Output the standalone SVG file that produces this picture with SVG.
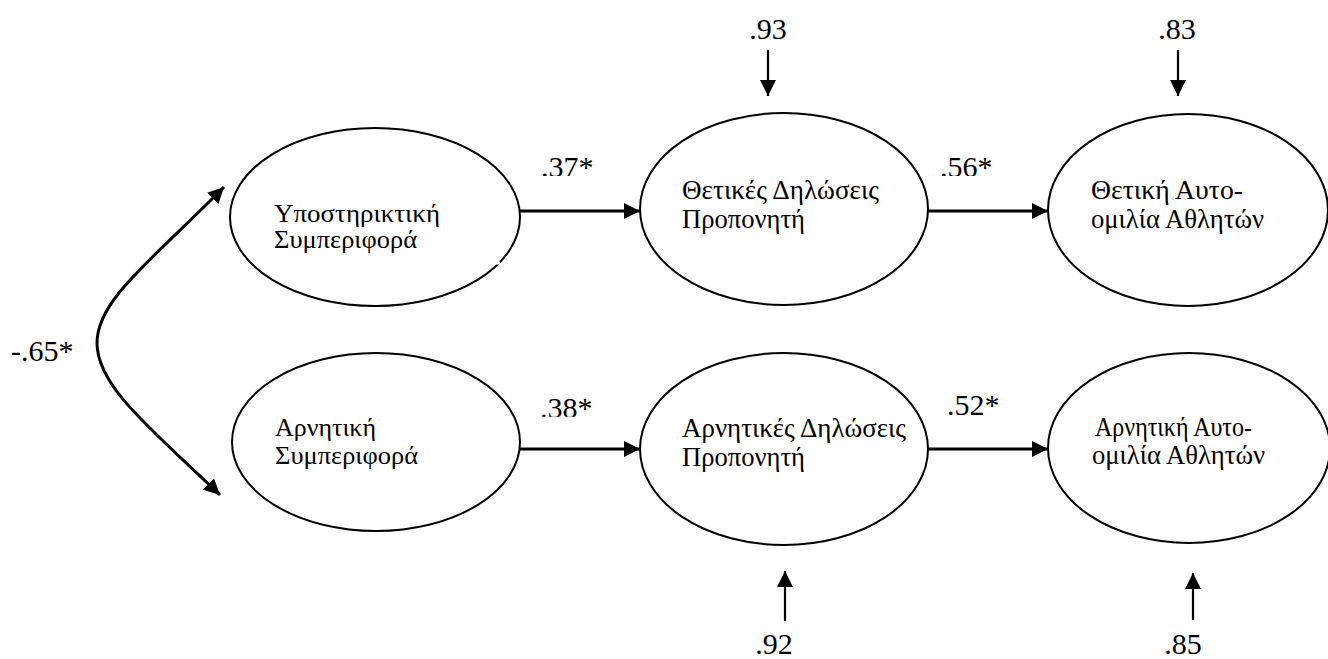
<svg xmlns="http://www.w3.org/2000/svg" width="1328" height="659" viewBox="0 0 1328 659">
<style>
.node ellipse{fill:#fff;stroke:#000;stroke-width:2}
.lbl{font-family:"Liberation Serif","Times New Roman",serif;fill:#000}
.gr{font-family:"Liberation Serif","Times New Roman","DejaVu Serif",serif;fill:#000}
.t25{font-size:25px}
.t27{font-size:28px}
.num{font-size:30px}
.conn path,.conn line{stroke:#000;fill:none}
.h{stroke-width:3}
.v{stroke-width:2.2}
</style>
<defs>
<marker id="ah" markerUnits="userSpaceOnUse" markerWidth="18" markerHeight="16" refX="16" refY="8" orient="auto">
<path d="M0,0 L16,8 L0,16 Z" fill="#000"/>
</marker>
<marker id="ahs" markerUnits="userSpaceOnUse" markerWidth="18" markerHeight="16" refX="16" refY="8" orient="auto-start-reverse">
<path d="M0,0 L16,8 L0,16 Z" fill="#000"/>
</marker>
<clipPath id="clipTop"><rect x="520" y="140" width="520" height="36"/></clipPath>
<clipPath id="clipBot"><rect x="520" y="380" width="100" height="36.7"/></clipPath>
</defs>

<g class="conn" id="connectors">
<path d="M224,187 C150,262 97,300 97,343 C97,386 150,428 220,495" stroke-width="3" marker-start="url(#ahs)" marker-end="url(#ah)"/>
<line class="h" x1="520" y1="211" x2="640" y2="211" marker-end="url(#ah)"/>
<line class="h" x1="928" y1="211" x2="1048" y2="211" marker-end="url(#ah)"/>
<line class="h" x1="520" y1="449" x2="640" y2="449" marker-end="url(#ah)"/>
<line class="h" x1="928" y1="449" x2="1048" y2="449" marker-end="url(#ah)"/>
<line class="v" x1="768" y1="50" x2="768" y2="96" marker-end="url(#ah)"/>
<line class="v" x1="1178" y1="50" x2="1178" y2="96" marker-end="url(#ah)"/>
<line class="v" x1="785" y1="621" x2="785" y2="571" marker-end="url(#ah)"/>
<line class="v" x1="1193" y1="620" x2="1193" y2="573" marker-end="url(#ah)"/>
</g>

<g id="n_support" class="node">
<ellipse cx="375" cy="217" rx="145" ry="89"/>
<line x1="254" y1="263" x2="260" y2="263" stroke="#fff" stroke-width="3"/>
<line x1="494" y1="263" x2="500" y2="263" stroke="#fff" stroke-width="3"/>
<text class="gr t25" x="274" y="222" textLength="166" lengthAdjust="spacingAndGlyphs">Υποστηρικτική</text>
<text class="gr t25" x="274" y="248" textLength="143" lengthAdjust="spacingAndGlyphs">Συμπεριφορά</text>
</g>

<g id="n_negative" class="node">
<ellipse cx="376" cy="442" rx="144" ry="89"/>
<text class="gr t25" x="275" y="436" textLength="101" lengthAdjust="spacingAndGlyphs">Αρνητική</text>
<text class="gr t25" x="275" y="464" textLength="143" lengthAdjust="spacingAndGlyphs">Συμπεριφορά</text>
</g>

<g id="n_pos_statements" class="node">
<ellipse cx="784" cy="209" rx="144" ry="96"/>
<text class="gr t27" x="682" y="199" textLength="197" lengthAdjust="spacingAndGlyphs">Θετικές Δηλώσεις</text>
<text class="gr t27" x="682" y="228" textLength="123" lengthAdjust="spacingAndGlyphs">Προπονητή</text>
</g>

<g id="n_neg_statements" class="node">
<ellipse cx="784" cy="449" rx="144" ry="96"/>
<text class="gr t27" x="682" y="437" textLength="224" lengthAdjust="spacingAndGlyphs">Αρνητικές Δηλώσεις</text>
<text class="gr t27" x="682" y="466" textLength="123" lengthAdjust="spacingAndGlyphs">Προπονητή</text>
</g>

<g id="n_pos_selftalk" class="node">
<ellipse cx="1188" cy="210" rx="140" ry="96"/>
<text class="gr t27" x="1091" y="199" textLength="152" lengthAdjust="spacingAndGlyphs">Θετική Αυτο-</text>
<text class="gr t27" x="1091" y="228" textLength="173" lengthAdjust="spacingAndGlyphs">ομιλία Αθλητών</text>
</g>

<g id="n_neg_selftalk" class="node">
<ellipse cx="1189" cy="448" rx="141" ry="95"/>
<text class="gr t27" x="1095" y="436" textLength="157" lengthAdjust="spacingAndGlyphs">Αρνητική Αυτο-</text>
<text class="gr t27" x="1092" y="464" textLength="173" lengthAdjust="spacingAndGlyphs">ομιλία Αθλητών</text>
</g>

<g id="labels">
<text class="lbl num" x="11" y="361" font-size="31">-.65*</text>
<g clip-path="url(#clipTop)">
<text class="lbl num" x="541" y="177">.37*</text>
<text class="lbl num" x="940" y="177">.56*</text>
</g>
<g clip-path="url(#clipBot)">
<text class="lbl num" x="540" y="418">.38*</text>
</g>
<text class="lbl num" x="947" y="415">.52*</text>
<text class="lbl num" x="768" y="39" text-anchor="middle">.93</text>
<text class="lbl num" x="1177" y="39" text-anchor="middle">.83</text>
<text class="lbl num" x="774" y="654" text-anchor="middle">.92</text>
<text class="lbl num" x="1183" y="654" text-anchor="middle">.85</text>
</g>
</svg>
